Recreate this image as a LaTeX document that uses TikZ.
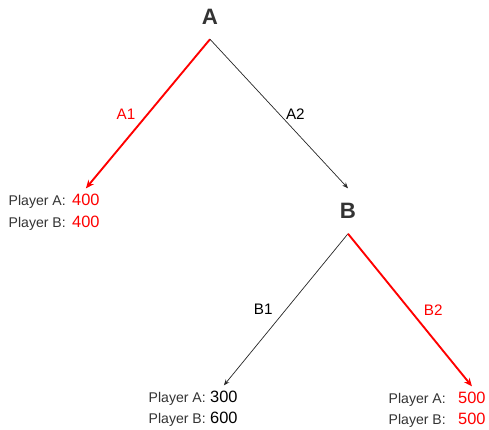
\documentclass[tikz,border=0pt]{standalone}
\usepackage{fontspec}
\setmainfont{Liberation Sans}
\usepackage{tikz}
\usetikzlibrary{positioning,arrows.meta}
\definecolor{txtgray}{HTML}{333333}
\definecolor{pickred}{HTML}{FF0000}

\begin{document}
\begin{tikzpicture}[x=0.03cm,y=-0.03cm,
    player/.style={font=\fontsize{19}{23}\selectfont\bfseries, text=txtgray, inner sep=0pt, minimum height=1.35cm},
    payoff/.style={font=\fontsize{14}{17}\selectfont, inner xsep=0pt, inner ysep=0.15cm, anchor=base west},
    who/.style={font=\fontsize{12}{14}\selectfont, text=txtgray, inner sep=0pt},
    move/.style={font=\fontsize{13}{16}\selectfont, inner sep=0pt},
    plain/.style={draw=black!85, line width=0.6pt, -{Stealth[length=5pt,width=4pt]}},
    best/.style={draw=pickred, line width=1.6pt, -{Stealth[length=7pt,width=6pt]}}]

        \useasboundingbox (0,0) rectangle (489,429);

        \node[player] (a) at (210,16.5) {A};
        \node[player] (b) at (348,211) {B};

        % payoffs
        \node[payoff, text=pickred] (u1) at (72,205) {400};
        \node[payoff, text=pickred] (w1) at (72,227) {400};
        \node[who, base left=0.18cm of u1] (pu1) {Player A:};
        \node[who, base left=0.18cm of w1] (pw1) {Player B:};

        \node[payoff] (u2) at (210,402) {300};
        \node[payoff] (w2) at (210,423) {600};
        \node[who, base left=0.12cm of u2] (pu2) {Player A:};
        \node[who, base left=0.12cm of w2] (pw2) {Player B:};

        \node[payoff, text=pickred] (u3) at (458,403) {500};
        \node[payoff, text=pickred] (w3) at (458,424) {500};
        \node[who, base left=0.36cm of u3] (pu3) {Player A:};
        \node[who, base left=0.36cm of w3] (pw3) {Player B:};

        \path
        (a.south) edge[best] node[move, text=pickred, left=0.35cm] {A1} (u1.north)
        (a.south) edge[plain] node[move, right=0.2cm] {A2} (b.north)
        (b.south) edge[plain] node[move, left=0.39cm] {B1} (u2.north)
        (b.south) edge[best] node[move, text=pickred, right=0.39cm] {B2} (u3.north)
        ;

    \end{tikzpicture}
\end{document}
